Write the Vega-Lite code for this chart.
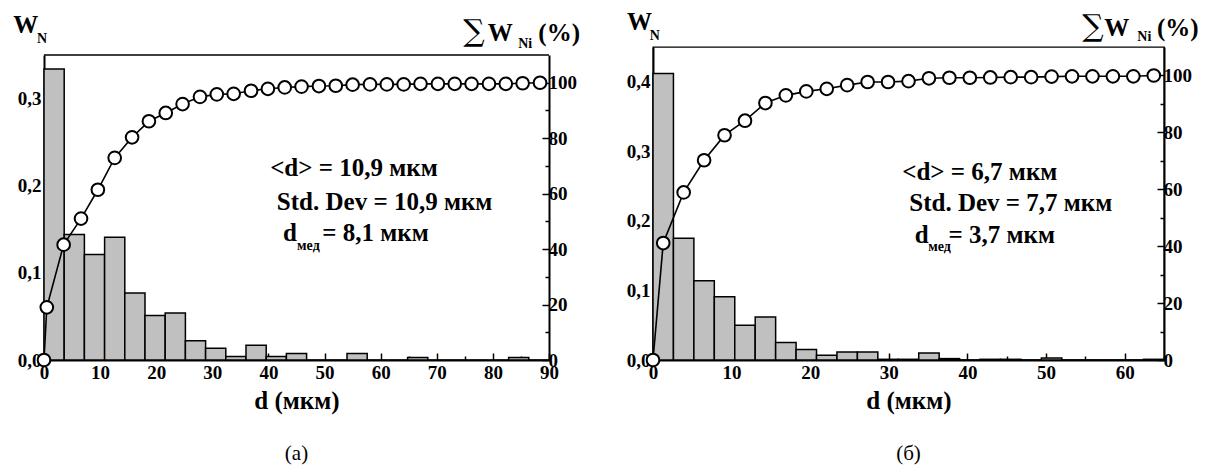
{
  "$schema": "https://vega.github.io/schema/vega-lite/v6.json",
  "background": "white",
  "padding": {"left": 13, "top": 9, "right": 3, "bottom": 0},
  "spacing": 45,
  "config": {
    "font": "Liberation Serif",
    "view": {"stroke": null},
    "axis": {"grid": false, "domainColor": "black", "domainWidth": 2, "tickColor": "black", "tickWidth": 1.5, "labelFont": "Liberation Serif", "labelFontWeight": "bold", "labelFontSize": 19, "labelColor": "black", "titleFont": "Liberation Serif", "titleFontWeight": "bold", "titleFontSize": 25, "titleColor": "black", "labelOverlap": false, "labelFlush": false},
    "text": {"font": "Liberation Serif", "fontWeight": "bold", "color": "black", "align": "left", "baseline": "alphabetic"},
    "title": {"font": "Liberation Serif", "fontSize": 21, "fontWeight": "normal", "color": "black"}
  },
  "datasets": {
    "barsA": [
      {"x": 0, "x2": 3.6, "w": 0.334}, {"x": 3.6, "x2": 7.2, "w": 0.144}, {"x": 7.2, "x2": 10.8, "w": 0.121},
      {"x": 10.8, "x2": 14.4, "w": 0.141}, {"x": 14.4, "x2": 18.0, "w": 0.077}, {"x": 18.0, "x2": 21.6, "w": 0.051},
      {"x": 21.6, "x2": 25.2, "w": 0.054}, {"x": 25.2, "x2": 28.8, "w": 0.022}, {"x": 28.8, "x2": 32.4, "w": 0.0135},
      {"x": 32.4, "x2": 36.0, "w": 0.004}, {"x": 36.0, "x2": 39.6, "w": 0.017}, {"x": 39.6, "x2": 43.2, "w": 0.004},
      {"x": 43.2, "x2": 46.8, "w": 0.0075}, {"x": 46.8, "x2": 50.4, "w": 0}, {"x": 50.4, "x2": 54.0, "w": 0},
      {"x": 54.0, "x2": 57.6, "w": 0.0075}, {"x": 57.6, "x2": 61.2, "w": 0}, {"x": 61.2, "x2": 64.8, "w": 0},
      {"x": 64.8, "x2": 68.4, "w": 0.003}, {"x": 68.4, "x2": 72.0, "w": 0}, {"x": 72.0, "x2": 75.6, "w": 0},
      {"x": 75.6, "x2": 79.2, "w": 0}, {"x": 79.2, "x2": 82.8, "w": 0}, {"x": 82.8, "x2": 86.4, "w": 0.003},
      {"x": 86.4, "x2": 90.0, "w": 0}
    ],
    "cumA": [
      {"d": 0, "c": 0}, {"d": 0.5, "c": 19.0}, {"d": 3.5, "c": 41.6}, {"d": 6.6, "c": 51.0}, {"d": 9.6, "c": 61.4},
      {"d": 12.6, "c": 72.9}, {"d": 15.7, "c": 80.3}, {"d": 18.7, "c": 86.1}, {"d": 21.7, "c": 89.1},
      {"d": 24.7, "c": 92.3}, {"d": 27.8, "c": 94.9}, {"d": 30.8, "c": 95.8}, {"d": 33.8, "c": 96.0},
      {"d": 36.9, "c": 97.1}, {"d": 39.9, "c": 97.8}, {"d": 42.9, "c": 98.3}, {"d": 45.9, "c": 98.6},
      {"d": 49.0, "c": 98.8}, {"d": 52.0, "c": 98.9}, {"d": 55.0, "c": 99.3}, {"d": 58.1, "c": 99.4},
      {"d": 61.1, "c": 99.4}, {"d": 64.1, "c": 99.4}, {"d": 67.1, "c": 99.6}, {"d": 70.2, "c": 99.6},
      {"d": 73.2, "c": 99.6}, {"d": 76.2, "c": 99.6}, {"d": 79.3, "c": 99.6}, {"d": 82.3, "c": 99.6},
      {"d": 85.3, "c": 99.8}, {"d": 88.4, "c": 100}
    ],
    "txtA": [
      {"t": "<d> = 10,9 мкм", "tx": 40.3, "ty": 66.4, "k": "big"},
      {"t": "Std. Dev = 10,9 мкм", "tx": 41.5, "ty": 54.1, "k": "big"},
      {"t": "d", "tx": 42.6, "ty": 42.9, "k": "big"},
      {"t": "= 8,1 мкм", "tx": 49.6, "ty": 42.9, "k": "big"},
      {"t": "мед", "tx": 45.1, "ty": 39.7, "k": "sub"},
      {"t": "W", "tx": -5.5, "ty": 117.9, "k": "head"},
      {"t": "W", "tx": 79.1, "ty": 115.0, "k": "head"},
      {"t": "(%)", "tx": 88.1, "ty": 115.0, "k": "head"},
      {"t": "∑", "tx": 74.7, "ty": 115.0, "k": "sig"},
      {"t": "N", "tx": -1.25, "ty": 114.3, "k": "hsub"},
      {"t": "Ni", "tx": 84.5, "ty": 112.5, "k": "hsub"}
    ],
    "barsB": [
      {"x": 0, "x2": 2.6, "w": 0.412}, {"x": 2.6, "x2": 5.2, "w": 0.175}, {"x": 5.2, "x2": 7.8, "w": 0.114},
      {"x": 7.8, "x2": 10.4, "w": 0.091}, {"x": 10.4, "x2": 13.0, "w": 0.050}, {"x": 13.0, "x2": 15.6, "w": 0.062},
      {"x": 15.6, "x2": 18.2, "w": 0.025}, {"x": 18.2, "x2": 20.8, "w": 0.015}, {"x": 20.8, "x2": 23.4, "w": 0.007},
      {"x": 23.4, "x2": 26.0, "w": 0.0115}, {"x": 26.0, "x2": 28.6, "w": 0.0115}, {"x": 28.6, "x2": 31.2, "w": 0.001},
      {"x": 31.2, "x2": 33.8, "w": 0.001}, {"x": 33.8, "x2": 36.4, "w": 0.010}, {"x": 36.4, "x2": 39.0, "w": 0.002},
      {"x": 39.0, "x2": 41.6, "w": 0}, {"x": 41.6, "x2": 44.2, "w": 0.001}, {"x": 44.2, "x2": 46.8, "w": 0.001},
      {"x": 46.8, "x2": 49.4, "w": 0}, {"x": 49.4, "x2": 52.0, "w": 0.003}, {"x": 52.0, "x2": 54.6, "w": 0},
      {"x": 54.6, "x2": 57.2, "w": 0}, {"x": 57.2, "x2": 59.8, "w": 0}, {"x": 59.8, "x2": 62.4, "w": 0},
      {"x": 62.4, "x2": 65.0, "w": 0.001}
    ],
    "cumB": [
      {"d": 0, "c": 0}, {"d": 1.3, "c": 41.1}, {"d": 3.9, "c": 58.9}, {"d": 6.5, "c": 70.2}, {"d": 9.1, "c": 79.0},
      {"d": 11.7, "c": 84.1}, {"d": 14.3, "c": 90.3}, {"d": 16.9, "c": 93.0}, {"d": 19.5, "c": 94.4},
      {"d": 22.1, "c": 95.3}, {"d": 24.7, "c": 96.6}, {"d": 27.3, "c": 97.7}, {"d": 29.9, "c": 97.7},
      {"d": 32.5, "c": 98.0}, {"d": 35.1, "c": 99.0}, {"d": 37.7, "c": 99.2}, {"d": 40.3, "c": 99.2},
      {"d": 42.9, "c": 99.3}, {"d": 45.5, "c": 99.4}, {"d": 48.1, "c": 99.4}, {"d": 50.7, "c": 99.6},
      {"d": 53.3, "c": 99.7}, {"d": 55.9, "c": 99.7}, {"d": 58.5, "c": 99.7}, {"d": 61.1, "c": 99.7},
      {"d": 63.7, "c": 100}
    ],
    "txtB": [
      {"t": "<d> = 6,7 мкм", "tx": 31.7, "ty": 63.3, "k": "big"},
      {"t": "Std. Dev = 7,7 мкм", "tx": 32.6, "ty": 52.4, "k": "big"},
      {"t": "d", "tx": 33.3, "ty": 41.1, "k": "big"},
      {"t": "= 3,7 мкм", "tx": 37.6, "ty": 41.1, "k": "big"},
      {"t": "мед", "tx": 35.0, "ty": 38.3, "k": "sub"},
      {"t": "W", "tx": -3.3, "ty": 116.0, "k": "head"},
      {"t": "W", "tx": 57.4, "ty": 113.9, "k": "head"},
      {"t": "(%)", "tx": 64.1, "ty": 113.9, "k": "head"},
      {"t": "∑", "tx": 54.6, "ty": 113.9, "k": "sig"},
      {"t": "N", "tx": -0.4, "ty": 112.5, "k": "hsub"},
      {"t": "Ni", "tx": 61.6, "ty": 112.1, "k": "hsub"}
    ]
  },
  "hconcat": [
    {
      "width": 505,
      "height": 313,
      "title": {"text": "(а)", "orient": "bottom", "offset": 30},
      "resolve": {"scale": {"x": "independent", "y": "independent"}, "axis": {"x": "independent", "y": "independent"}},
      "layer": [
        {
          "data": {"name": "barsA"},
          "transform": [{"aggregate": [{"op": "count", "as": "n"}]}],
          "mark": {"type": "rule", "color": "black", "strokeWidth": 1.3},
          "encoding": {
            "y": {"datum": 0.35, "type": "quantitative", "scale": {"domain": [0, 0.35], "nice": false, "range": [313, 8]}, "axis": null}
          }
        },
        {
          "data": {"name": "barsA"},
          "mark": {"type": "rect", "fill": "#c0c0c0", "stroke": "black", "strokeWidth": 1.5},
          "encoding": {
            "x": {"field": "x", "type": "quantitative", "scale": {"domain": [0, 90], "nice": false, "zero": false},
              "axis": {"orient": "bottom", "values": [0,5,10,15,20,25,30,35,40,45,50,55,60,65,70,75,80,85,90],
                "labelExpr": "datum.value % 10 === 0 ? datum.label : ''",
                "tickSize": {"condition": {"test": "datum.value % 10 === 0", "value": -7}, "value": -4},
                "labelPadding": 10, "title": "d (мкм)", "titlePadding": 3}},
            "x2": {"field": "x2"},
            "y": {"field": "w", "type": "quantitative", "scale": {"domain": [0, 0.35], "nice": false, "range": [313, 8]},
              "axis": {"orient": "left", "values": [0, 0.05, 0.1, 0.15, 0.2, 0.25, 0.3],
                "labelExpr": "abs(datum.value * 10 - round(datum.value * 10)) < 0.001 ? replace(format(datum.value, '.1f'), '.', ',') : ''",
                "tickSize": {"condition": {"test": "abs(datum.value * 10 - round(datum.value * 10)) < 0.001", "value": -7}, "value": -4},
                "labelPadding": 10, "title": null}},
            "y2": {"datum": 0}
          }
        },
        {
          "data": {"name": "cumA"},
          "encoding": {
            "x": {"field": "d", "type": "quantitative", "scale": {"domain": [0, 90], "nice": false, "zero": false}, "axis": null},
            "y": {"field": "c", "type": "quantitative", "scale": {"domain": [0, 110], "nice": false, "range": [313, 8]},
              "axis": {"orient": "right", "values": [0,10,20,30,40,50,60,70,80,90,100],
                "labelExpr": "datum.value % 20 === 0 ? datum.label : ''",
                "tickSize": {"condition": {"test": "datum.value % 20 === 0", "value": -7}, "value": -4},
                "labelPadding": 6, "title": null}}
          },
          "layer": [
            {"mark": {"type": "line", "color": "black", "strokeWidth": 1.6}},
            {"mark": {"type": "point", "shape": "circle", "filled": true, "fill": "white", "stroke": "black", "strokeWidth": 2, "size": 160, "opacity": 1}}
          ]
        },
        {
          "data": {"name": "txtA"},
          "transform": [{"filter": "datum.k === 'big'"}],
          "mark": {"type": "text", "fontSize": 25},
          "encoding": {
            "x": {"field": "tx", "type": "quantitative", "scale": {"domain": [0, 90], "nice": false, "zero": false}, "axis": null},
            "y": {"field": "ty", "type": "quantitative", "scale": {"domain": [0, 110], "nice": false, "range": [313, 8]}, "axis": null},
            "text": {"field": "t"}
          }
        },
        {
          "data": {"name": "txtA"},
          "transform": [{"filter": "datum.k === 'sub' || datum.k === 'hsub'"}],
          "mark": {"type": "text", "fontSize": 14},
          "encoding": {
            "x": {"field": "tx", "type": "quantitative", "scale": {"domain": [0, 90], "nice": false, "zero": false}, "axis": null},
            "y": {"field": "ty", "type": "quantitative", "scale": {"domain": [0, 110], "nice": false, "range": [313, 8]}, "axis": null},
            "text": {"field": "t"}
          }
        },
        {
          "data": {"name": "txtA"},
          "transform": [{"filter": "datum.k === 'head'"}],
          "mark": {"type": "text", "fontSize": 25},
          "encoding": {
            "x": {"field": "tx", "type": "quantitative", "scale": {"domain": [0, 90], "nice": false, "zero": false}, "axis": null},
            "y": {"field": "ty", "type": "quantitative", "scale": {"domain": [0, 110], "nice": false, "range": [313, 8]}, "axis": null},
            "text": {"field": "t"}
          }
        },
        {
          "data": {"name": "txtA"},
          "transform": [{"filter": "datum.k === 'sig'"}],
          "mark": {"type": "text", "fontSize": 30, "font": "DejaVu Serif", "fontWeight": "normal"},
          "encoding": {
            "x": {"field": "tx", "type": "quantitative", "scale": {"domain": [0, 90], "nice": false, "zero": false}, "axis": null},
            "y": {"field": "ty", "type": "quantitative", "scale": {"domain": [0, 110], "nice": false, "range": [313, 8]}, "axis": null},
            "text": {"field": "t"}
          }
        }
      ]
    },
    {
      "width": 511,
      "height": 313,
      "view": {"stroke": "black", "strokeWidth": 1.3},
      "title": {"text": "(б)", "orient": "bottom", "offset": 30},
      "resolve": {"scale": {"x": "independent", "y": "independent"}, "axis": {"x": "independent", "y": "independent"}},
      "layer": [
        {
          "data": {"name": "barsB"},
          "mark": {"type": "rect", "fill": "#c0c0c0", "stroke": "black", "strokeWidth": 1.5},
          "encoding": {
            "x": {"field": "x", "type": "quantitative", "scale": {"domain": [0, 65], "nice": false, "zero": false},
              "axis": {"orient": "bottom", "values": [0,5,10,15,20,25,30,35,40,45,50,55,60,65],
                "labelExpr": "datum.value % 10 === 0 ? datum.label : ''",
                "tickSize": {"condition": {"test": "datum.value % 10 === 0", "value": -7}, "value": -4},
                "labelPadding": 10, "title": "d (мкм)", "titlePadding": 3}},
            "x2": {"field": "x2"},
            "y": {"field": "w", "type": "quantitative", "scale": {"domain": [0, 0.45], "nice": false},
              "axis": {"orient": "left", "values": [0, 0.05, 0.1, 0.15, 0.2, 0.25, 0.3, 0.35, 0.4],
                "labelExpr": "abs(datum.value * 10 - round(datum.value * 10)) < 0.001 ? replace(format(datum.value, '.1f'), '.', ',') : ''",
                "tickSize": {"condition": {"test": "abs(datum.value * 10 - round(datum.value * 10)) < 0.001", "value": -7}, "value": -4},
                "labelPadding": 10, "title": null}},
            "y2": {"datum": 0}
          }
        },
        {
          "data": {"name": "cumB"},
          "encoding": {
            "x": {"field": "d", "type": "quantitative", "scale": {"domain": [0, 65], "nice": false, "zero": false}, "axis": null},
            "y": {"field": "c", "type": "quantitative", "scale": {"domain": [0, 110], "nice": false},
              "axis": {"orient": "right", "values": [0,10,20,30,40,50,60,70,80,90,100],
                "labelExpr": "datum.value % 20 === 0 ? datum.label : ''",
                "tickSize": {"condition": {"test": "datum.value % 20 === 0", "value": -7}, "value": -4},
                "labelPadding": 6, "title": null}}
          },
          "layer": [
            {"mark": {"type": "line", "color": "black", "strokeWidth": 1.6}},
            {"mark": {"type": "point", "shape": "circle", "filled": true, "fill": "white", "stroke": "black", "strokeWidth": 2, "size": 160, "opacity": 1}}
          ]
        },
        {
          "data": {"name": "txtB"},
          "transform": [{"filter": "datum.k === 'big'"}],
          "mark": {"type": "text", "fontSize": 25},
          "encoding": {
            "x": {"field": "tx", "type": "quantitative", "scale": {"domain": [0, 65], "nice": false, "zero": false}, "axis": null},
            "y": {"field": "ty", "type": "quantitative", "scale": {"domain": [0, 110], "nice": false}, "axis": null},
            "text": {"field": "t"}
          }
        },
        {
          "data": {"name": "txtB"},
          "transform": [{"filter": "datum.k === 'sub' || datum.k === 'hsub'"}],
          "mark": {"type": "text", "fontSize": 14},
          "encoding": {
            "x": {"field": "tx", "type": "quantitative", "scale": {"domain": [0, 65], "nice": false, "zero": false}, "axis": null},
            "y": {"field": "ty", "type": "quantitative", "scale": {"domain": [0, 110], "nice": false}, "axis": null},
            "text": {"field": "t"}
          }
        },
        {
          "data": {"name": "txtB"},
          "transform": [{"filter": "datum.k === 'head'"}],
          "mark": {"type": "text", "fontSize": 25},
          "encoding": {
            "x": {"field": "tx", "type": "quantitative", "scale": {"domain": [0, 65], "nice": false, "zero": false}, "axis": null},
            "y": {"field": "ty", "type": "quantitative", "scale": {"domain": [0, 110], "nice": false}, "axis": null},
            "text": {"field": "t"}
          }
        },
        {
          "data": {"name": "txtB"},
          "transform": [{"filter": "datum.k === 'sig'"}],
          "mark": {"type": "text", "fontSize": 30, "font": "DejaVu Serif", "fontWeight": "normal"},
          "encoding": {
            "x": {"field": "tx", "type": "quantitative", "scale": {"domain": [0, 65], "nice": false, "zero": false}, "axis": null},
            "y": {"field": "ty", "type": "quantitative", "scale": {"domain": [0, 110], "nice": false}, "axis": null},
            "text": {"field": "t"}
          }
        }
      ]
    }
  ]
}
